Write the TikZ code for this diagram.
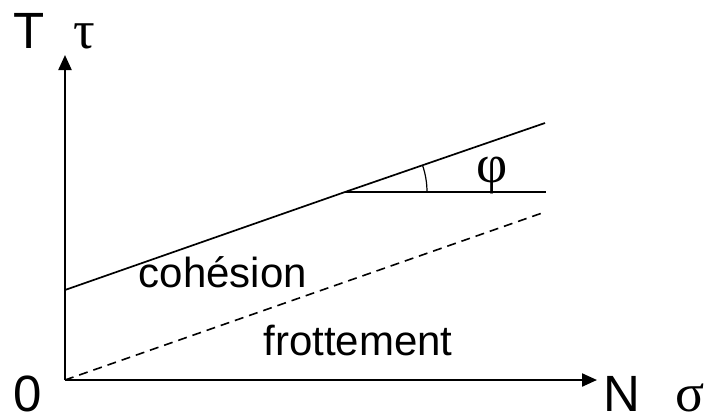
\documentclass[tikz,border=0pt]{standalone}
\usepackage{fontspec}
\setmainfont{Liberation Sans}
\newfontfamily\grk{Liberation Serif}
\usetikzlibrary{arrows.meta}
\begin{document}
\begin{tikzpicture}[x=1pt,y=-1pt,
  axis/.style={line width=2.2pt,-{Triangle[length=15pt,width=13pt]}},
  lin/.style={line width=1.7pt},
  dsh/.style={line width=1.6pt,dash pattern=on 9pt off 6pt},
  big/.style={font=\fontsize{51}{51}\selectfont,inner sep=0pt,anchor=base,text depth=0pt},
  lab/.style={font=\fontsize{42}{42}\selectfont,inner sep=0pt,anchor=base},
  gr/.style={font=\grk\fontsize{54}{54}\selectfont,inner sep=0pt,anchor=base,text depth=0pt}]
\useasboundingbox (0,0) rectangle (704,418);
\coordinate (O) at (65,380);
\coordinate (Ytop) at (65,55);
\coordinate (Xend) at (597,380);
\coordinate (C) at (65,290);
\coordinate (P) at (345,192);
\coordinate (E) at (545,123);
\coordinate (H) at (546,192);
\coordinate (D) at (545,212);
\draw[axis] (O) -- (Ytop);
\draw[axis] (O) -- (Xend);
\draw[lin] (C) -- (P) -- (E);
\draw[lin] (P) -- (H);
\draw[dsh] (O) -- (D);
\draw[line width=1.2pt] ([shift={(82,0)}]P) arc[start angle=0,end angle=-19,radius=82];
\node[big] (T) at (29,48) {T};
\node[gr] (tau) at (84,48) {τ};
\node[big] (zero) at (28,411) {0};
\node[big] (N) at (622,411) {N};
\node[gr] (sigma) at (690,411) {σ};
\node[gr] (phi) at (492,182) {φ};
\node[lab] (coh) at (223,287) {cohésion};
\node[lab] (frot) at (358,355) {frottement};
\end{tikzpicture}
\end{document}
